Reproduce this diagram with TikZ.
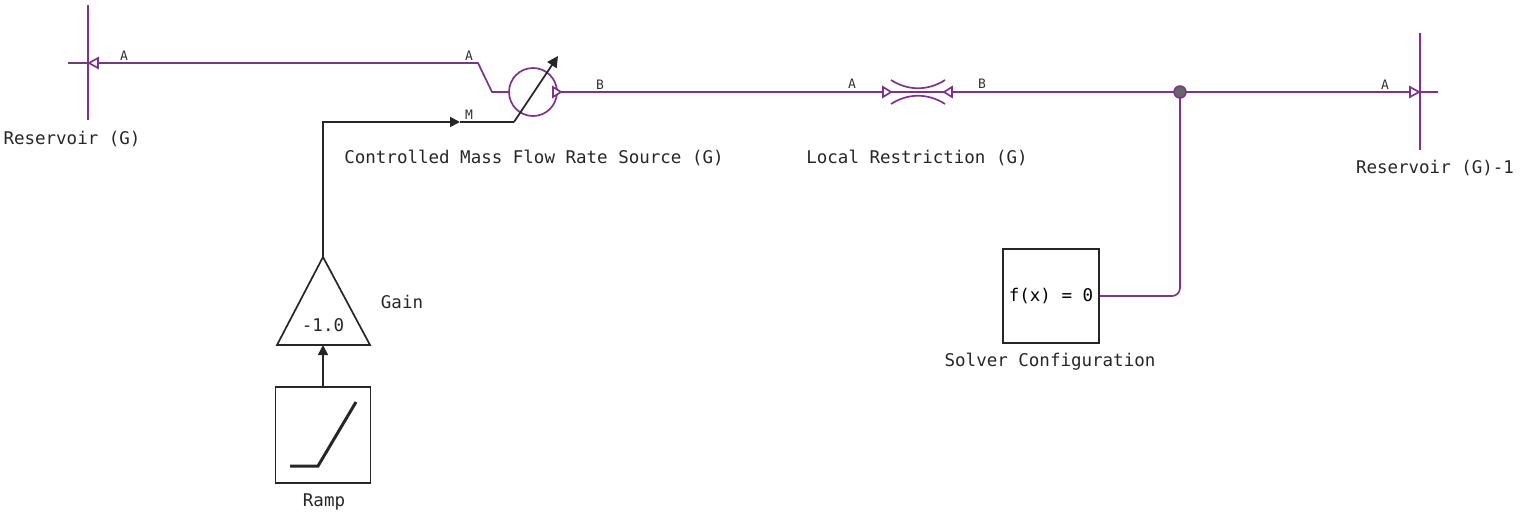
\documentclass[tikz,border=0pt]{standalone}
\usepackage{fontspec}
\setmonofont{DejaVu Sans Mono}
\usepackage{tikz}
\usetikzlibrary{arrows.meta,positioning}
\definecolor{phys}{RGB}{125,50,140}
\tikzset{
  pline/.style={draw=phys,line width=1.7pt},
  sline/.style={draw=black!85,line width=1.7pt},
  lbl/.style={font=\ttfamily\fontsize{17.5}{20}\selectfont,text=black!85,inner sep=0pt},
  plbl/.style={font=\ttfamily\fontsize{13}{15}\selectfont,text=black!80,inner sep=0pt},
  port/.style={pline,fill=white}
}
\begin{document}
\begin{tikzpicture}[x=1pt,y=-1pt]
\useasboundingbox (0,0) rectangle (1522,515);
\coordinate (resL) at (88,63);
\coordinate (resR) at (1420,92);
\coordinate (pump) at (533,92);
\coordinate (junc) at (1180,92);
% left reservoir
\draw[pline] (88,5) -- (88,120);
\draw[pline] (68,63) -- (resL);
\draw[pline] (98,63) -- (478,63) -- (492,92) -- (510,92);
\draw[port] (98,58) -- (89,63) -- (98,68) -- cycle;
\node[plbl] at (124,56) {A};
\node[plbl] at (469,56) {A};
\node[lbl] (resLname) at (72,139) {Reservoir (G)};
% mass flow source
\draw[pline] (pump) circle (24);
\draw[pline] (557,92) -- (883,92);
\draw[port] (553,87) -- (561,92) -- (553,97) -- cycle;
\node[plbl] at (600,85) {B};
\node[lbl] (srcname) at (534,158) {Controlled Mass Flow Rate Source (G)};
\node[plbl] at (469,115) {M};
% restriction
\draw[pline] (891,80) .. controls (908,91) and (928,91) .. (945,80);
\draw[pline] (891,104) .. controls (908,93) and (928,93) .. (945,104);
\draw[pline] (889,92) -- (945,92);
\draw[port] (883,87) -- (891,92) -- (883,97) -- cycle;
\draw[port] (952,87) -- (944,92) -- (952,97) -- cycle;
\draw[pline] (952,92) -- (1410,92);
\node[plbl] at (852,84) {A};
\node[plbl] at (982,84) {B};
\node[lbl] (resname) at (917,158) {Local Restriction (G)};
% right reservoir
\draw[pline] (1420,33) -- (1420,150);
\draw[pline] (resR) -- (1438,92);
\draw[port] (1410,87) -- (1419,92) -- (1410,97) -- cycle;
\node[plbl] at (1385,85) {A};
\node[lbl] (resRname) at (1435,168) {Reservoir (G)-1};
% solver
\node[draw=black!85,line width=1.5pt,minimum width=96pt,minimum height=94pt,font=\ttfamily\fontsize{17.5}{20}\selectfont] (solver) at (1051,296) {f(x) = 0};
\draw[pline,rounded corners=8pt] (junc) -- (1180,296) -- (solver.east);
\draw[draw=phys,fill=black!60,line width=1.5pt] (junc) circle (6);
\node[lbl] (solvername) at (1050,362) {Solver Configuration};
% gain and ramp
\draw[sline] (323,257) -- (370,345) -- (277,345) -- cycle;
\coordinate (gainTop) at (323,257);
\coordinate (gainBot) at (323,345);
\node[lbl] at (323,325) {-1.0};
\node[lbl] (gainname) at (402,302) {Gain};
\node[draw=black!85,line width=1.5pt,minimum width=95pt,minimum height=96pt] (ramp) at (323,435) {};
\draw[black!85,line width=3pt] (290,466) -- (318,466) -- (356,402);
\node[lbl] (rampname) at (324,502) {Ramp};
\draw[sline,-{Triangle[length=10pt,width=10pt]}] (ramp.north) -- (gainBot);
\draw[sline,-{Triangle[length=10pt,width=10pt]}] (gainTop) -- (323,122) -- (460,122);
\draw[sline] (460,122) -- (514,122);
\draw[sline,-{Triangle[length=11pt,width=11pt]}] (514,122) -- (558,56);
\end{tikzpicture}
\end{document}
